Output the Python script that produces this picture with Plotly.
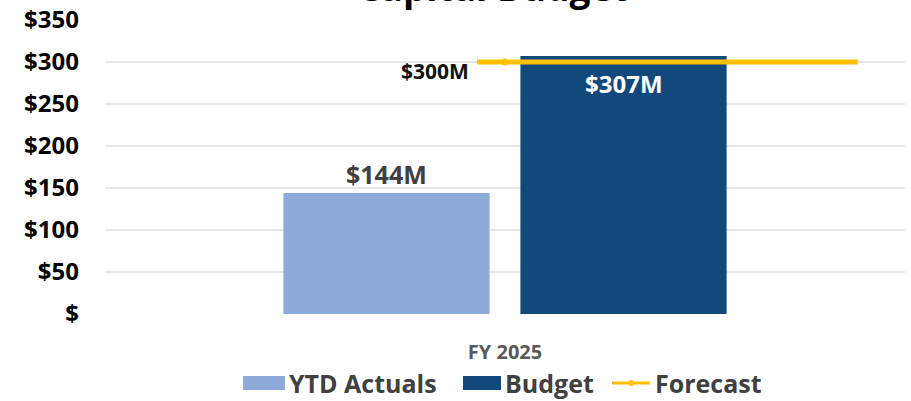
import plotly.graph_objects as go

# Chart data
categories = ["FY 2025"]
ytd_actuals = [144]
budget = [307]
forecast = [300]
y_ticks = [0, 50, 100, 150, 200, 250, 300, 350]
y_tick_labels = ["$", "$50", "$100", "$150", "$200", "$250", "$300", "$350"]

LIGHT_BLUE = "#8EAADB"
NAVY = "#12497C"
GOLD = "#FFC000"
TEXT_GRAY = "#404040"
FONT = "Open Sans"

W, H = 911, 401
M_L, M_R, M_T, M_B = 105, 6, 20, 87
PW, PH = W - M_L - M_R, H - M_T - M_B
BARGAP, BARGROUPGAP = 0.4075, 0.13


def px_x(px):
    return (px - M_L) / PW


def px_y(py):
    return (H - M_B - py) / PH


fig = go.Figure()

fig.add_trace(go.Bar(
    x=categories, y=ytd_actuals, name="YTD Actuals",
    marker=dict(color=LIGHT_BLUE, line=dict(width=0)), showlegend=False,
))
fig.add_trace(go.Bar(
    x=categories, y=budget, name="Budget",
    marker=dict(color=NAVY, line=dict(width=0)), showlegend=False,
))

# Forecast line on an overlaid unit axis spanning the plot width
fc_x = [0.465, 0.941]
fig.add_trace(go.Scatter(
    x=fc_x, y=forecast * len(fc_x), xaxis="x2", mode="lines",
    line=dict(color=GOLD, width=5), name="Forecast", showlegend=False,
))
fig.add_trace(go.Scatter(
    x=[0.5], y=forecast, xaxis="x2", mode="markers",
    marker=dict(color=GOLD, size=7, symbol="circle"),
    name="Forecast", showlegend=False,
))

# bar centres within the category slot (category index units)
slot = (1 - BARGAP) / 2
ytd_x = 0 - slot / 2
bud_x = 0 + slot / 2

annotations = [
    # bar value labels
    dict(x=ytd_x, y=ytd_actuals[0], xref="x", yref="y", text=f"${ytd_actuals[0]}M",
         showarrow=False, xanchor="center", yanchor="bottom", yshift=0,
         font=dict(family=FONT, size=25, color=TEXT_GRAY, weight="bold")),
    dict(x=bud_x, y=budget[0], xref="x", yref="y", text=f"${budget[0]}M",
         showarrow=False, xanchor="center", yanchor="top", yshift=-9,
         font=dict(family=FONT, size=24, color="white", weight="bold")),
    # forecast value label
    dict(x=fc_x[0], y=forecast[0], xref="x2", yref="y", text=f"${forecast[0]}M",
         showarrow=False, xanchor="right", yanchor="middle", xshift=-6, yshift=-9,
         font=dict(family=FONT, size=21, color="#111111", weight="bold")),
    # title, partly above the top edge
    dict(x=px_x(492), y=1, xref="paper", yref="paper", text="Capital Budget",
         showarrow=False, xanchor="center", yanchor="bottom", yshift=6,
         font=dict(family=FONT, size=37, color="#000000", weight="bold")),
]

# Legend drawn as shapes and labels
shapes = []
legend_y = 383
legend_items = [
    ("box", LIGHT_BLUE, 243, 285, "YTD Actuals", 287),
    ("box", NAVY, 463, 501, "Budget", 503),
    ("line", GOLD, 612, 650, "Forecast", 653),
]
for kind, color, x0, x1, label, tx in legend_items:
    if kind == "box":
        shapes.append(dict(type="rect", xref="paper", yref="paper",
                           x0=px_x(x0), x1=px_x(x1), y0=px_y(legend_y + 7), y1=px_y(legend_y - 7),
                           fillcolor=color, line=dict(width=0), layer="above"))
    else:
        shapes.append(dict(type="line", xref="paper", yref="paper",
                           x0=px_x(x0), x1=px_x(x1), y0=px_y(legend_y), y1=px_y(legend_y),
                           line=dict(color=color, width=3), layer="above"))
        cx = (x0 + x1) / 2
        shapes.append(dict(type="circle", xref="paper", yref="paper",
                           x0=px_x(cx - 3), x1=px_x(cx + 3), y0=px_y(legend_y + 3), y1=px_y(legend_y - 3),
                           fillcolor=color, line=dict(width=0), layer="above"))
    annotations.append(dict(x=px_x(tx), y=px_y(legend_y), xref="paper", yref="paper",
                            text=label, showarrow=False, xanchor="left", yanchor="middle",
                            font=dict(family=FONT, size=25, color=TEXT_GRAY, weight="bold")))

fig.update_layout(
    width=W, height=H,
    margin=dict(l=M_L, r=M_R, t=M_T, b=M_B, autoexpand=False),
    paper_bgcolor="white", plot_bgcolor="white",
    barmode="group", bargap=BARGAP, bargroupgap=BARGROUPGAP,
    showlegend=False,
    xaxis=dict(
        showgrid=False, zeroline=False, showline=False, ticks="", automargin=False,
        tickfont=dict(family=FONT, size=20, color="#595959", weight="bold"),
        ticklabelstandoff=24,
    ),
    xaxis2=dict(overlaying="x", range=[0, 1], visible=False),
    yaxis=dict(
        range=[0, 350], tickvals=y_ticks, ticktext=y_tick_labels, automargin=False,
        showgrid=True, gridcolor="#E6E6E6", gridwidth=1.5,
        zeroline=False, showline=False, ticks="",
        tickfont=dict(family=FONT, size=24, color="#000000", weight="bold"),
        ticklabelstandoff=25,
    ),
    annotations=annotations,
    shapes=shapes,
)

fig.write_html("out.html")
